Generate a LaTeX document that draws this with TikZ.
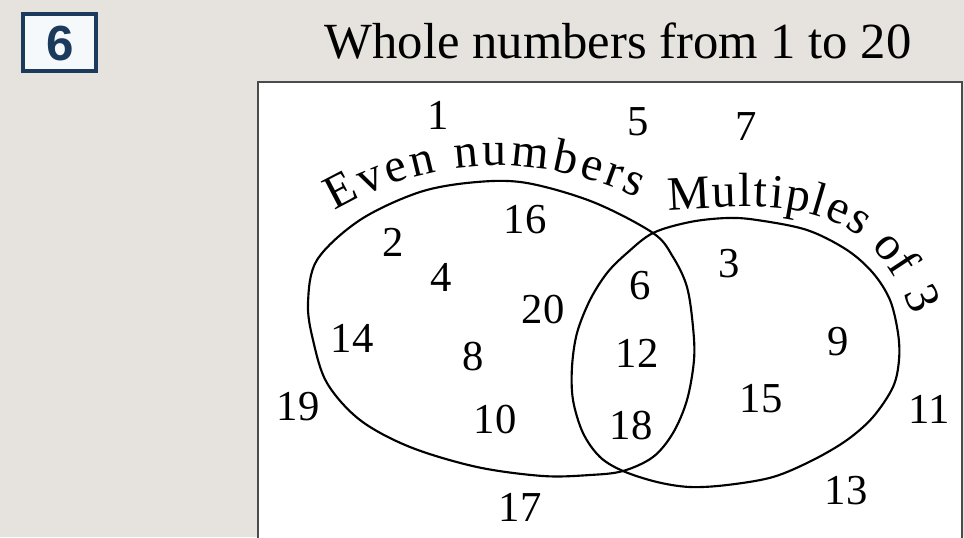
\documentclass[tikz,border=0pt]{standalone}
\usepackage{fontspec}
\setmainfont{Liberation Serif}
\newfontfamily\tagsans{Liberation Sans}
\definecolor{bggrey}{RGB}{230,226,222}
\definecolor{navy}{RGB}{28,58,92}
\definecolor{framegrey}{RGB}{75,75,75}
\definecolor{tagfill}{RGB}{246,249,252}
\begin{document}
\begin{tikzpicture}[x=0.75pt,y=-0.75pt,
  num/.style={inner sep=0pt, font=\rmfamily\fontsize{32}{38}\selectfont},
  arcchar/.style={sloped, anchor=base, inner sep=0pt, font=\rmfamily\fontsize{36}{42}\selectfont},
  setline/.style={line width=1.6pt, black}
]
\useasboundingbox (0,0) rectangle (964,537);
\clip (0,0) rectangle (964,537);
\fill[bggrey] (0,0) rectangle (964,537);
% question tag
\draw[navy, line width=2.3pt, fill=tagfill] (23,14) rectangle (96,71);
\node[inner sep=0pt, text=navy, font=\tagsans\bfseries\fontsize{37}{44}\selectfont] (qnum) at (60,44) {6};
% title
\node[inner sep=0pt, anchor=base, font=\rmfamily\fontsize{38}{46}\selectfont] (title) at (618,58) {Whole numbers from 1 to 20};
% universal set frame
\draw[framegrey, line width=1.5pt, fill=white] (258,82) rectangle (962,570);
% Even numbers set
\draw[setline] plot[smooth cycle, tension=0.55] coordinates {
  (653,233) (673,257) (687,287) (693,327) (694,360) (687,400) (673,433) (653,457) (623,471)
  (590,475) (543,476) (477,467) (410,447) (360,420) (327,383) (313,340) (308,303) (317,260)
  (360,220) (420,192) (477,182) (527,183) (593,202)};
% Multiples of 3 set
\draw[setline] plot[smooth cycle, tension=0.55] coordinates {
  (653,233) (690,222) (727,218) (757,220) (807,230) (847,250) (873,273) (890,300) (898,333)
  (899,360) (893,387) (873,417) (847,440) (813,460) (773,477) (727,485) (690,487) (657,482)
  (623,471) (600,457) (583,433) (573,400) (572,367) (577,333) (590,300) (607,273) (627,253)};
% curved set labels
\path (334,211) .. controls (438,151) and (545,155) .. (638,198)
  node[arcchar, pos=.0431] (ea1) {E}
  node[arcchar, pos=.1322] (ea2) {v}
  node[arcchar, pos=.2096] (ea3) {e}
  node[arcchar, pos=.2899] (ea4) {n}
  node[arcchar, pos=.4274] (ea5) {n}
  node[arcchar, pos=.5158] (ea6) {u}
  node[arcchar, pos=.6284] (ea7) {m}
  node[arcchar, pos=.7411] (ea8) {b}
  node[arcchar, pos=.8274] (ea9) {e}
  node[arcchar, pos=.9005] (ea10) {r}
  node[arcchar, pos=.9694] (ea11) {s};
\path (668,210) .. controls (772,205) and (866,190) .. (914,318)
  node[arcchar, pos=.0703] (ma1) {M}
  node[arcchar, pos=.1861] (ma2) {u}
  node[arcchar, pos=.2539] (ma3) {l}
  node[arcchar, pos=.3088] (ma4) {t}
  node[arcchar, pos=.3637] (ma5) {i}
  node[arcchar, pos=.4381] (ma6) {p}
  node[arcchar, pos=.5129] (ma7) {l}
  node[arcchar, pos=.5853] (ma8) {e}
  node[arcchar, pos=.6675] (ma9) {s}
  node[arcchar, pos=.7947] (ma10) {o}
  node[arcchar, pos=.8592] (ma11) {f}
  node[arcchar, pos=.9644] (ma12) {3};
% numbers
\node[num] (n1) at (438,115) {1};
\node[num] (n5) at (638,122) {5};
\node[num] (n7) at (746,127) {7};
\node[num] (n16) at (525,220) {16};
\node[num] (n2) at (393,242) {2};
\node[num] (n4) at (441,277) {4};
\node[num] (n20) at (543,310) {20};
\node[num] (n14) at (352,338) {14};
\node[num] (n8) at (473,357) {8};
\node[num] (n10) at (495,420) {10};
\node[num] (n19) at (298,407) {19};
\node[num] (n17) at (520,507) {17};
\node[num] (n6) at (640,286) {6};
\node[num] (n12) at (637,353) {12};
\node[num] (n18) at (631,426) {18};
\node[num] (n3) at (729,264) {3};
\node[num] (n9) at (838,342) {9};
\node[num] (n15) at (761,399) {15};
\node[num] (n11) at (929,409) {11};
\node[num] (n13) at (846,491) {13};
\end{tikzpicture}
\end{document}
